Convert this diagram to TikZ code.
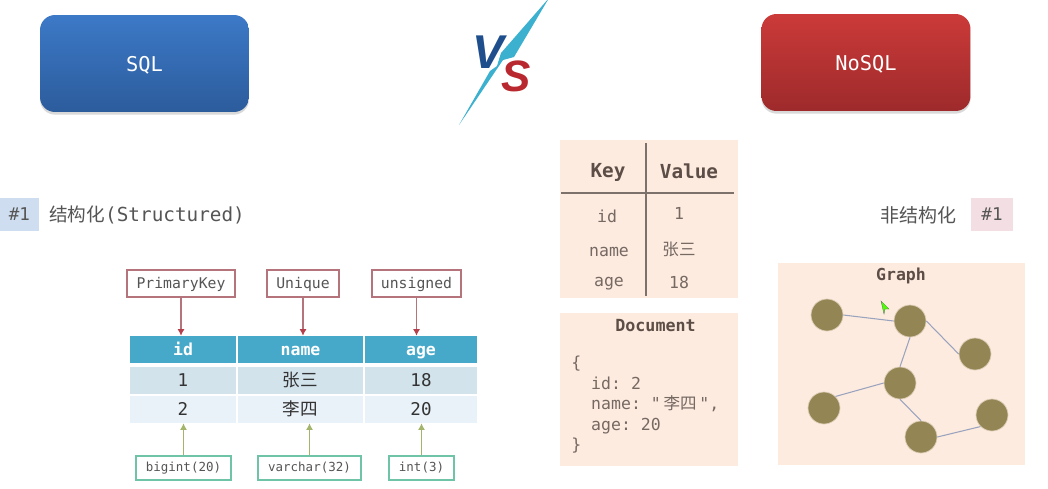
\documentclass[tikz,border=0pt]{standalone}
\usepackage{fontspec}
\usepackage{tikz}
\usetikzlibrary{arrows.meta, shadows}
\setmonofont{DejaVu Sans Mono}
\renewcommand{\familydefault}{\ttdefault}
\newfontfamily\cjk{Noto Sans CJK SC}
\newcommand{\pxfont}[1]{\fontsize{#1}{#1}\selectfont}
\definecolor{sqlblue}{HTML}{3C79C7}
\definecolor{sqlbluedark}{HTML}{2C5C9C}
\definecolor{nosqlred}{HTML}{CB3A39}
\definecolor{nosqlreddark}{HTML}{9E2A2B}
\definecolor{headblue}{HTML}{47A9C9}
\definecolor{rowone}{HTML}{D2E3EC}
\definecolor{rowtwo}{HTML}{EAF2F9}
\definecolor{panelbg}{HTML}{FDEBE0}
\definecolor{paneltext}{HTML}{5C4E46}
\definecolor{greytext}{HTML}{555555}
\definecolor{nodeolive}{HTML}{938654}
\definecolor{edgeblue}{HTML}{9AA3BD}
\definecolor{redline}{HTML}{B5737C}
\definecolor{redtip}{HTML}{B5404C}
\definecolor{greenline}{HTML}{6FC4A8}
\definecolor{greentip}{HTML}{A3B56A}
\definecolor{boltblue}{HTML}{3BB0CF}
\definecolor{vblue}{HTML}{1F4E8C}
\definecolor{sred}{HTML}{B8282E}
\definecolor{tagblue}{HTML}{CFDDF0}
\definecolor{tagpink}{HTML}{F3DFE3}

\begin{document}
\begin{tikzpicture}[
  x=0.02cm, y=-0.02cm,
  bigbox/.style={rectangle, text=white, minimum width=4.18cm, minimum height=1.94cm, text height=0.36cm, text depth=0.06cm, rounded corners=0.3cm, font=\pxfont{11.6}, drop shadow={shadow xshift=0pt, shadow yshift=-1.5pt, opacity=.3}},
  sqlbox/.style={bigbox, top color=sqlblue, bottom color=sqlbluedark},
  nosqlbox/.style={bigbox, top color=nosqlred, bottom color=nosqlreddark},
  badge/.style={rectangle, inner sep=0pt, minimum height=0.66cm, text=greytext, font=\pxfont{10}},
  heading/.style={text=greytext, inner sep=0pt, font=\pxfont{11}},
  headcell/.style={rectangle, inner sep=0pt, minimum height=0.54cm, text height=0.28cm, text depth=0.04cm, fill=headblue, text=white, font=\bfseries\pxfont{9.4}},
  rowcell/.style={rectangle, inner sep=0pt, minimum height=0.54cm, text height=0.28cm, text depth=0.04cm, text=black!80, font=\pxfont{10}},
  toplabel/.style={rectangle, draw=redline, semithick, fill=white, inner sep=0pt, minimum height=0.54cm, text height=0.24cm, text depth=0.04cm, text=greytext, font=\pxfont{8.4}},
  lowlabel/.style={rectangle, draw=greenline, semithick, fill=white, inner sep=0pt, minimum height=0.48cm, text height=0.2cm, text depth=0.05cm, text=greytext, font=\pxfont{7.1}},
  redarrow/.style={-{Latex[length=1.3mm,width=1.4mm,color=redtip]}, draw=redline, semithick},
  greenarrow/.style={-{Latex[length=1.3mm,width=1.4mm]}, draw=greentip, semithick},
  panel/.style={rectangle, fill=panelbg, inner sep=0pt},
  kvhead/.style={text=paneltext, inner sep=0pt, text height=0.26cm, text depth=0.05cm, font=\bfseries\pxfont{11}},
  kvcell/.style={text=paneltext!85, inner sep=0pt, text height=0.2cm, text depth=0.05cm, font=\pxfont{9.4}},
  paneltitle/.style={text=paneltext, inner sep=0pt, text height=0.22cm, text depth=0.04cm, font=\bfseries\pxfont{9.5}},
  kvrule/.style={draw=paneltext!80, semithick},
  graphnode/.style={circle, fill=nodeolive, draw=panelbg!70!nodeolive, inner sep=0pt, minimum size=0.64cm},
  graphedge/.style={draw=edgeblue, semithick}
]
\useasboundingbox (0,0) rectangle (1048,488);

\node[sqlbox] (sql) at (144.5,63.5) {SQL};
\node[nosqlbox] (nosql) at (866,62.5) {NoSQL};

\fill[boltblue] (549,-2) -- (514,57) -- (503,60) -- (459,125) -- (490,71) -- (497,66) -- (501,53) -- cycle;
\node[text=vblue, inner sep=0pt, font=\fontspec{Liberation Sans}\bfseries\itshape\pxfont{27}] (versus) at (488,52) {V};
\node[text=sred, inner sep=0pt, font=\fontspec{Liberation Sans}\bfseries\itshape\pxfont{25}] (sign) at (516.5,76) {S};

\node[badge, fill=tagblue, minimum width=0.78cm] (sqltag) at (19.5,214.5) {\#1};
\node[heading, anchor=west] (sqlhead) at (49,215) {{\cjk\pxfont{10.6}结构化}(Structured)};
\node[badge, fill=tagpink, minimum width=0.84cm] (nosqltag) at (992,214.5) {\#1};
\node[heading, anchor=east] (nosqlhead) at (957,215) {{\cjk\pxfont{10.8}非结构化}};

\node[headcell, minimum width=2.12cm] (hid) at (183,349.5) {id};
\node[headcell, minimum width=2.52cm] (hname) at (300.5,349.5) {name};
\node[headcell, minimum width=2.24cm] (hage) at (421,349.5) {age};
\node[rowcell, fill=rowone, minimum width=2.12cm] (aid) at (183,380) {1};
\node[rowcell, fill=rowone, minimum width=2.52cm] (aname) at (300.5,380) {\cjk 张三};
\node[rowcell, fill=rowone, minimum width=2.24cm] (aage) at (421,380) {18};
\node[rowcell, fill=rowtwo, minimum width=2.12cm] (bid) at (183,409.5) {2};
\node[rowcell, fill=rowtwo, minimum width=2.52cm] (bname) at (300.5,409.5) {\cjk 李四};
\node[rowcell, fill=rowtwo, minimum width=2.24cm] (bage) at (421,409.5) {20};

\node[toplabel, minimum width=2.16cm] (pkey) at (181,283.5) {PrimaryKey};
\node[toplabel, minimum width=1.44cm] (uniq) at (303,283.5) {Unique};
\node[toplabel, minimum width=1.78cm] (unsgn) at (416.5,283.5) {unsigned};
\node[lowlabel, minimum width=1.9cm] (bigint) at (183.5,468) {bigint(20)};
\node[lowlabel, minimum width=2.06cm] (vchar) at (309.5,468) {varchar(32)};
\node[lowlabel, minimum width=1.3cm] (intthree) at (421.5,468) {int(3)};

\draw[redarrow] (pkey) -- (pkey |- hid.north);
\draw[redarrow] (uniq) -- (uniq |- hname.north);
\draw[redarrow] (unsgn) -- (unsgn |- hage.north);
\draw[greenarrow] (bigint) -- (bigint |- bid.south);
\draw[greenarrow] (vchar) -- (vchar |- bname.south);
\draw[greenarrow] (intthree) -- (intthree |- bage.south);

\node[panel, minimum width=3.56cm, minimum height=3.16cm] (kvpanel) at (649,219) {};
\draw[kvrule] (646,143) -- (646,296);
\draw[kvrule] (561,193) -- (734,193);
\node[kvhead] (keyhead) at (608,172) {Key};
\node[kvhead] (valhead) at (689,173) {Value};
\node[kvcell] (kid) at (607,219) {id};
\node[kvcell] (kname) at (609,253) {name};
\node[kvcell] (kage) at (609,283) {age};
\node[kvcell] (vid) at (679,216) {1};
\node[kvcell] (vname) at (679,252) {\cjk 张三};
\node[kvcell] (vage) at (679,285) {18};

\node[panel, minimum width=3.56cm, minimum height=3.06cm] (docpanel) at (649,389.5) {};
\node[paneltitle] (doctitle) at (655.5,326.5) {Document};
\node[text=paneltext!85, inner sep=0pt, anchor=north west, align=left, font=\fontsize{9.4}{11.6}\selectfont] (docbody) at (571,356) {\{\\
\ \ id: 2\\
\ \ name: "\,{\cjk 李四}\,",\\
\ \ age: 20\\
\}};

\node[panel, minimum width=4.94cm, minimum height=4.06cm] (graphpanel) at (901.5,364) {};
\node[paneltitle, font=\bfseries\pxfont{9.4}] (graphtitle) at (901,276) {Graph};
\node[graphnode] (ga) at (827,315) {};
\node[graphnode] (gb) at (910,321) {};
\node[graphnode] (gc) at (975,354) {};
\node[graphnode] (gd) at (900,383) {};
\node[graphnode] (ge) at (824,408) {};
\node[graphnode] (gf) at (921,437) {};
\node[graphnode] (gg) at (992,415) {};
\draw[graphedge] (ga.east) -- (gb.west);
\draw[graphedge] (gb.east) -- (gc.west);
\draw[graphedge] (gb.south) -- (gd.north);
\draw[graphedge] (gd.west) -- (ge.north east);
\draw[graphedge] (gd.south) -- (gf.north);
\draw[graphedge] (gf.east) -- (gg.south west);
\fill[green!70!yellow, draw=black!60, very thin] (881,301) -- (889,309) -- (885,309) -- (884,314) -- cycle;
\end{tikzpicture}
\end{document}
